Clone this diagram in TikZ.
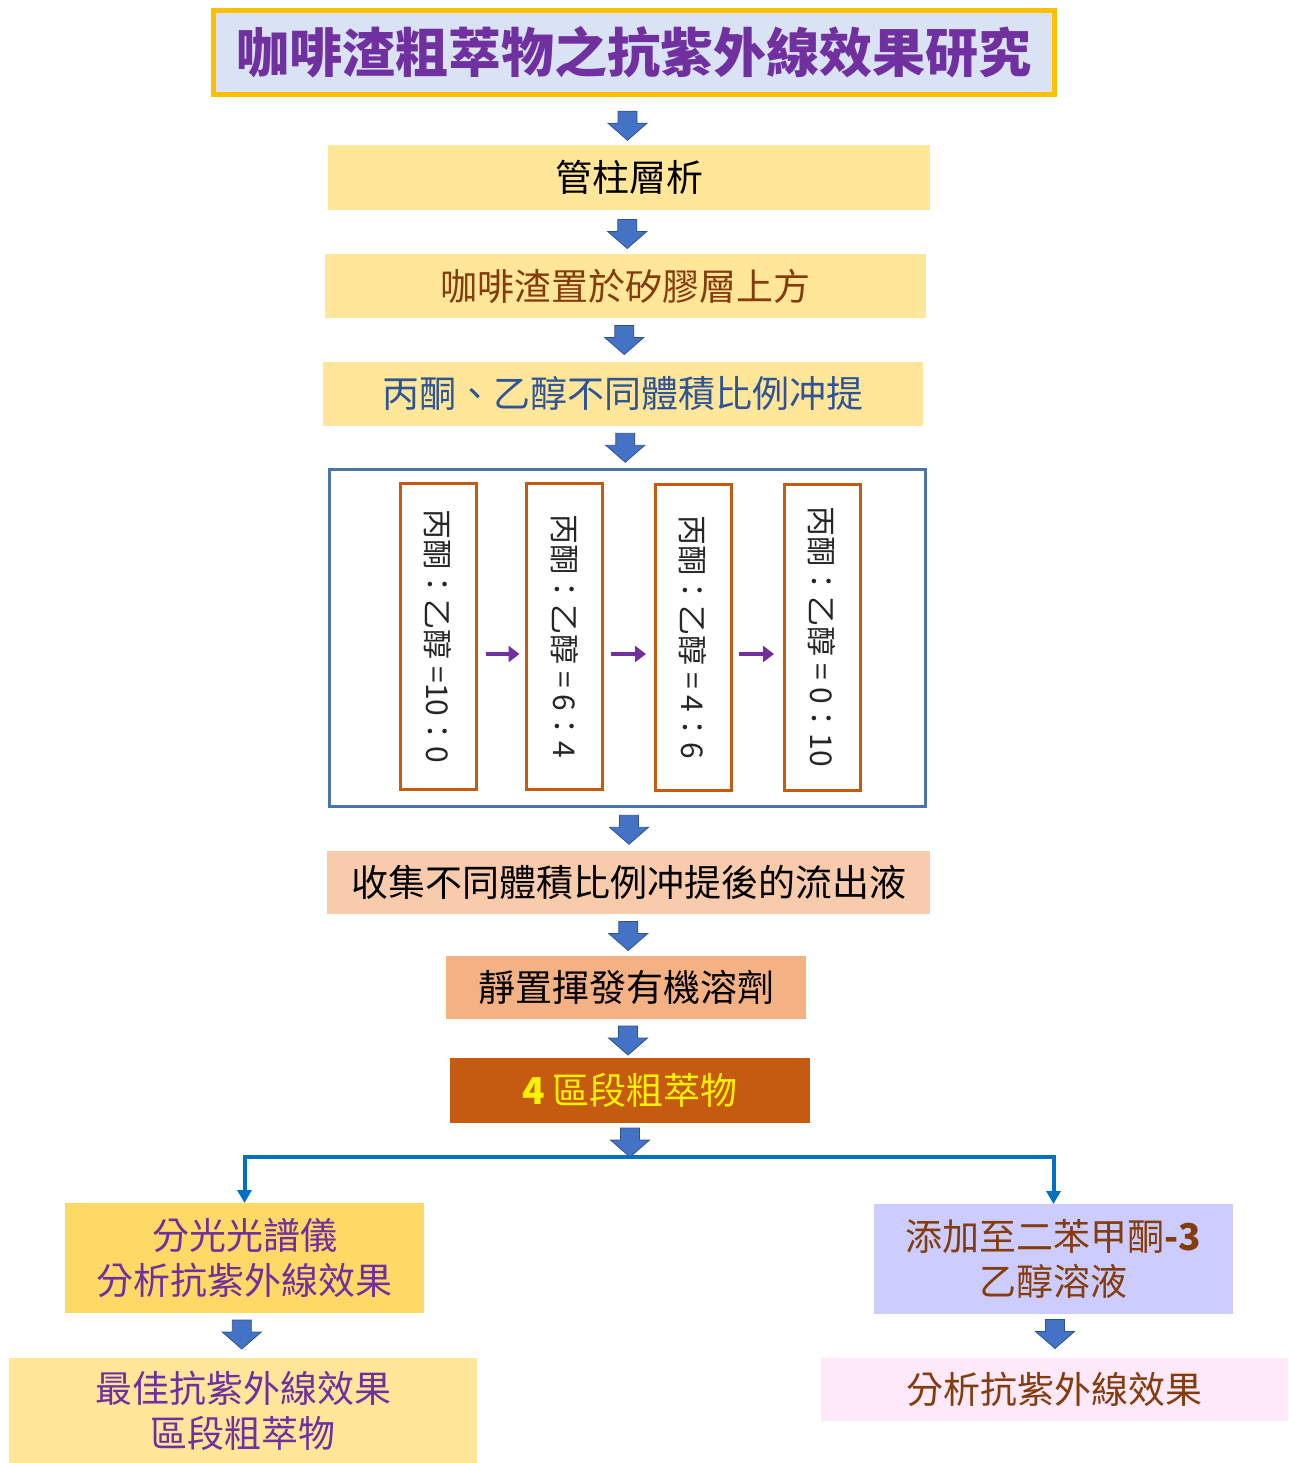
\documentclass[tikz,border=0pt]{standalone}
\usepackage{fontspec}
\setmainfont{Noto Sans CJK TC}
\usetikzlibrary{arrows.meta,calc}
\definecolor{tpurple}{HTML}{7030A0}
\definecolor{tbrown}{HTML}{843C0C}
\definecolor{tblue}{HTML}{2F5597}
\definecolor{tgold}{HTML}{FFC000}
\definecolor{tlblue}{HTML}{DAE3F3}
\definecolor{byellow}{HTML}{FFE699}
\definecolor{bgold}{HTML}{FFD966}
\definecolor{bpeach}{HTML}{F8CBAD}
\definecolor{borange}{HTML}{F4B183}
\definecolor{bdark}{HTML}{C55A11}
\definecolor{blav}{HTML}{CCCCFF}
\definecolor{bpink}{HTML}{FDE9FA}
\definecolor{frameblue}{HTML}{4A74A8}
\definecolor{arrowblue}{HTML}{4472C4}
\definecolor{arrowedge}{HTML}{2F528F}
\definecolor{lineblue}{HTML}{0070C0}
\begin{document}
\begin{tikzpicture}[x=1pt,y=-1pt,
  box/.style={rectangle, inner sep=0pt, outer sep=0pt, minimum height=64,
    font=\fontsize{37}{45}\selectfont, align=center},
  vbox/.style={rectangle, draw=bdark, line width=3, fill=white, inner sep=0pt, outer sep=0pt,
    rotate=-90, minimum width=306, minimum height=76,
    font=\fontsize{30}{34}\selectfont, text=black!85},
  parrow/.style={draw=tpurple, line width=4, -{Triangle[length=11,width=16]}},
  splitline/.style={draw=lineblue, line width=4,
    {Triangle[length=13,width=14]}-{Triangle[length=13,width=14]}},
  barrow/.pic={\filldraw[fill=arrowblue, draw=arrowedge, line width=0.8]
    (-9.5,-14.5)--(9.5,-14.5)--(9.5,-2.5)--(19.5,-2.5)--(0,14.5)--(-19.5,-2.5)--(-9.5,-2.5)--cycle;}
]
\useasboundingbox (0,0) rectangle (1288,1463);
\fill[white] (0,0) rectangle (1288,1463);

% title
\node[rectangle, draw=tgold, line width=5, fill=tlblue, inner sep=0pt, outer sep=0pt,
  minimum width=841, minimum height=84, text=tpurple,
  font=\fontsize{53}{58}\selectfont\bfseries] (title) at (634,52.5) {咖啡渣粗萃物之抗紫外線效果研究};

% main column
\node[box, fill=byellow, minimum width=602, minimum height=65, text=black] (b1) at (629,177.5) {管柱層析};
\node[box, fill=byellow, minimum width=601, text=tbrown] (b2) at (625.5,286) {咖啡渣置於矽膠層上方};
\node[box, fill=byellow, minimum width=600, text=tblue] (b3) at (623,394) {丙酮、乙醇不同體積比例冲提};

\node[rectangle, draw=frameblue, line width=3, inner sep=0pt, outer sep=0pt,
  minimum width=596, minimum height=337] (frame) at (627.5,638) {};

\node[vbox] (va) at (438,636.5) {丙酮：乙醇 =10：0\hspace{16pt}};
\node[vbox] (vb) at (564.5,636.5) {丙酮：乙醇 = 6：4\hspace{8pt}};
\node[vbox] (vc) at (693,637) {丙酮：乙醇 = 4：6\hspace{20pt}};
\node[vbox] (vd) at (822,637) {丙酮：乙醇 = 0：10\hspace{6pt}};

\draw[parrow] ([shift={(10,17.5)}]va.north) -- ([shift={(-7,17.5)}]vb.south);
\draw[parrow] ([shift={(8,17.5)}]vb.north) -- ([shift={(-9,17)}]vc.south);
\draw[parrow] ([shift={(8,17)}]vc.north) -- ([shift={(-10,17)}]vd.south);

\node[box, fill=bpeach, minimum width=603, minimum height=63, text=black] (b5) at (628.5,882.5) {收集不同體積比例冲提後的流出液};
\node[box, fill=borange, minimum width=360, minimum height=63, text=black] (b6) at (626,987.5) {靜置揮發有機溶劑};
\node[box, fill=bdark, minimum width=360, minimum height=65, text=yellow] (b7) at (630,1090.5) {{\bfseries 4} 區段粗萃物};

% branches
\node[box, fill=bgold, minimum width=359, minimum height=110, text=tpurple] (l1) at (244.5,1258) {分光光譜儀\\分析抗紫外線效果};
\node[box, fill=byellow, minimum width=468, minimum height=105, text=tpurple] (l2) at (243,1410.5) {最佳抗紫外線效果\\區段粗萃物};
\node[box, fill=blav, minimum width=359, minimum height=110, text=tbrown] (r1) at (1053.5,1259) {添加至二苯甲酮{\bfseries -3}\\乙醇溶液};
\node[box, fill=bpink, minimum width=467, minimum height=63, text=tbrown] (r2) at (1054.5,1389.5) {分析抗紫外線效果};

\draw[splitline] (l1.north) -- ++(0,-46) -| (r1.north);

% block arrows
\pic at ($(title.south)!0.5!(b1.north)+(-4,6)$) {barrow};
\pic at ($(b1.south)!0.5!(b2.north)+(0,2)$) {barrow};
\pic at ($(b2.south)!0.5!(b3.north)$) {barrow};
\pic at ($(b3.south)!0.5!(frame.north)$) {barrow};
\pic at ($(frame.south)!0.5!(b5.north)+(1,1)$) {barrow};
\pic at ($(b5.south)!0.5!(b6.north)+(1,1)$) {barrow};
\pic at ($(b6.south)!0.5!(b7.north)+(0,2)$) {barrow};
\pic at ($(b7.south)+(0,19.5)$) {barrow};
\pic at ($(l1.south)!0.5!(l2.north)+(-2,-1)$) {barrow};
\pic at ($(r1.south)!0.5!(r2.north)+(1,-2)$) {barrow};
\end{tikzpicture}
\end{document}
